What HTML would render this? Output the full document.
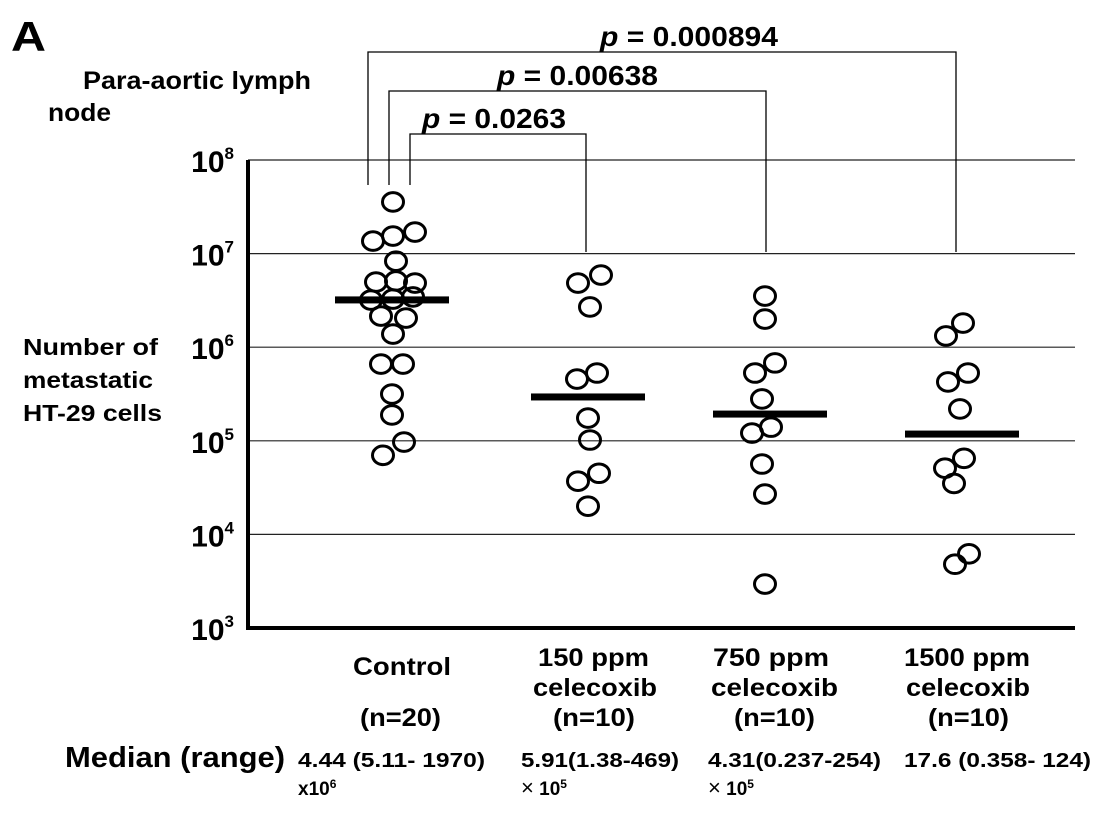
<!DOCTYPE html>
<html><head><meta charset="utf-8"><style>
html,body{margin:0;padding:0;background:#fff}
svg{display:block}
text{font-family:"Liberation Sans",Arial,sans-serif;font-weight:bold;fill:#000}
</style></head><body>
<svg id="chart" width="1110" height="821" viewBox="0 0 1110 821" xmlns="http://www.w3.org/2000/svg">
<text x="11" y="51" font-size="42" textLength="35" lengthAdjust="spacingAndGlyphs">A</text>
<text x="83" y="89" font-size="25" textLength="228" lengthAdjust="spacingAndGlyphs">Para-aortic lymph</text>
<text x="48" y="121" font-size="25" textLength="63" lengthAdjust="spacingAndGlyphs">node</text>
<g>
<text x="23" y="355" font-size="23" textLength="135" lengthAdjust="spacingAndGlyphs">Number of</text>
<text x="23" y="388" font-size="23" textLength="130" lengthAdjust="spacingAndGlyphs">metastatic</text>
<text x="23" y="421" font-size="23" textLength="139" lengthAdjust="spacingAndGlyphs">HT-29 cells</text>
</g>
<g id="grid"></g><g id="ticks"></g><g id="brackets"></g><g id="marks"></g>
<g>
<text x="353" y="675" font-size="25" textLength="98" lengthAdjust="spacingAndGlyphs">Control</text>
<text x="360" y="726" font-size="25" textLength="81" lengthAdjust="spacingAndGlyphs">(n=20)</text>
<text x="538" y="666" font-size="25" textLength="111" lengthAdjust="spacingAndGlyphs">150 ppm</text>
<text x="533" y="696" font-size="25" textLength="124" lengthAdjust="spacingAndGlyphs">celecoxib</text>
<text x="553" y="726" font-size="25" textLength="82" lengthAdjust="spacingAndGlyphs">(n=10)</text>
<text x="713" y="666" font-size="25" textLength="116" lengthAdjust="spacingAndGlyphs">750 ppm</text>
<text x="711" y="696" font-size="25" textLength="127" lengthAdjust="spacingAndGlyphs">celecoxib</text>
<text x="734" y="726" font-size="25" textLength="81" lengthAdjust="spacingAndGlyphs">(n=10)</text>
<text x="904" y="666" font-size="25" textLength="126" lengthAdjust="spacingAndGlyphs">1500 ppm</text>
<text x="906" y="696" font-size="25" textLength="124" lengthAdjust="spacingAndGlyphs">celecoxib</text>
<text x="928" y="726" font-size="25" textLength="81" lengthAdjust="spacingAndGlyphs">(n=10)</text>
</g>
<g>
<text x="65" y="767" font-size="29" textLength="220" lengthAdjust="spacingAndGlyphs">Median (range)</text>
<text x="298" y="767" font-size="20" textLength="187" lengthAdjust="spacingAndGlyphs">4.44 (5.11- 1970)</text>
<text x="298" y="795" font-size="19">x10<tspan font-size="12" dy="-7">6</tspan></text>
<text x="521" y="767" font-size="20" textLength="158" lengthAdjust="spacingAndGlyphs">5.91(1.38-469)</text>
<text x="521" y="795" font-size="19"><tspan font-weight="normal" font-size="22">×</tspan> 10<tspan font-size="12" dy="-7">5</tspan></text>
<text x="708" y="767" font-size="20" textLength="173" lengthAdjust="spacingAndGlyphs">4.31(0.237-254)</text>
<text x="708" y="795" font-size="19"><tspan font-weight="normal" font-size="22">×</tspan> 10<tspan font-size="12" dy="-7">5</tspan></text>
<text x="904" y="767" font-size="20" textLength="187" lengthAdjust="spacingAndGlyphs">17.6 (0.358- 124)</text>
</g>
</svg>
<script>
const groups = ['Control','150 ppm','750 ppm','1500 ppm'];
const controlVals = [3.56e7,1.36e7,1.54e7,1.70e7,8.3e6,4.97e6,5.1e6,4.85e6,3.19e6,3.27e6,3.44e6,2.15e6,2.05e6,1.38e6,6.6e5,6.6e5,3.16e5,1.89e5,9.7e4,7.0e4];
const ppm150Vals = [4.85e6,5.9e6,2.69e6,4.57e5,5.3e5,1.75e5,1.02e5,3.7e4,4.5e4,2.0e4];
const ppm750Vals = [3.52e6,2.0e6,5.3e5,6.8e5,2.8e5,1.21e5,1.4e5,5.65e4,2.7e4,2.95e3];
const ppm1500Vals = [1.32e6,1.81e6,4.25e5,5.3e5,2.19e5,5.1e4,6.5e4,3.5e4,4.8e3,6.2e3];
const medians = [3.2e6,2.94e5,1.93e5,1.18e5];
const controlJitter = [1,-19,1,23,4,-16,4,23,-21,1,21,-11,14,1,-11,11,0,0,12,-9];
const ppm150Jitter = [-10,13,2,-11,9,0,2,-10,11,0];
const ppm750Jitter = [-5,-5,-15,5,-8,-18,1,-8,-5,-5];
const ppm1500Jitter = [-16,1,-14,6,-2,-17,2,-8,-7,7];
const tickExps = [3,4,5,6,7,8];
const pLabels = ['0.0263','0.00638','0.000894'];

const NS='http://www.w3.org/2000/svg';
const yTop=160, yBot=628, xL=248, xR=1075;
function yScale(v){return yBot-(Math.log10(v)-3)/5*(yBot-yTop);}
const groupX=[392,588,770,962];
function xScale(i){return groupX[i];}
function mk(tag,attrs,parent){const e=document.createElementNS(NS,tag);for(const k in attrs)e.setAttribute(k,attrs[k]);parent.appendChild(e);return e;}

const grid=document.getElementById('grid'), ticks=document.getElementById('ticks');
tickExps.forEach(ex=>{
  const y=yScale(Math.pow(10,ex));
  if(ex>3){const l=mk('line',{x1:xL,x2:xR,y1:y,y2:y,stroke:'#222','stroke-width':1.2},grid);
  
  }
  const t=mk('text',{x:234,y:y+12,'font-size':30,'text-anchor':'end'},ticks);
  
  
  t.appendChild(document.createTextNode('10'));
  const s=mk('tspan',{'font-size':17,dy:-13},t);s.textContent=String(ex);
});
const ya=mk('line',{x1:xL,x2:xL,y1:yTop,y2:yBot+2,stroke:'#000','stroke-width':4},grid);


const xa=mk('line',{x1:xL-2,x2:xR,y1:yBot,y2:yBot,stroke:'#000','stroke-width':4},grid);



const br=document.getElementById('brackets');
const brY=[134,91,52], brLeft=[410,389,368], brTarget=[1,2,3], brTextX=[422,497,600], brTextW=[144,161,178];
pLabels.forEach((p,i)=>{
  const xr=xScale(brTarget[i])-(brTarget[i]===1?2:brTarget[i]===2?4:6);
  const g=mk('g',{},br);
  
  
  mk('polyline',{points:`${brLeft[i]},185 ${brLeft[i]},${brY[i]} ${xr},${brY[i]} ${xr},252`,fill:'none',stroke:'#000','stroke-width':1.3},g);
  const t=mk('text',{x:brTextX[i],y:brY[i]-6,'font-size':28,textLength:brTextW[i],lengthAdjust:'spacingAndGlyphs'},g);
  
  
  const it=mk('tspan',{'font-style':'italic'},t);it.textContent='p';
  t.appendChild(document.createTextNode(' = '+p));
});

const marks=document.getElementById('marks');
const allVals=[controlVals,ppm150Vals,ppm750Vals,ppm1500Vals];
const allJit=[controlJitter,ppm150Jitter,ppm750Jitter,ppm1500Jitter];
allVals.forEach((vals,gi)=>{
  const g=mk('g',{},marks);
  
  
  vals.forEach((v,j)=>{
    const c=mk('ellipse',{cx:xScale(gi)+allJit[gi][j],cy:yScale(v),rx:10.5,ry:9.3,fill:'none',stroke:'#000','stroke-width':3},g);
    
    
  });
  const my=yScale(medians[gi]);
  const m=mk('rect',{x:xScale(gi)-57,y:my-3.5,width:114,height:7,fill:'#000'},g);
  
  
});
</script>
</body></html>
